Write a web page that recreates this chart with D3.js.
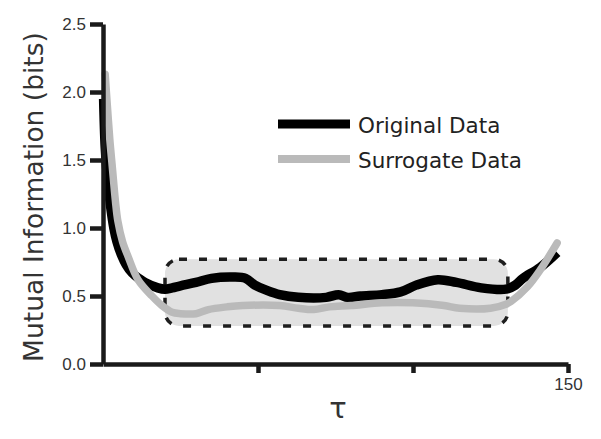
<!DOCTYPE html>
<html>
<head>
<meta charset="utf-8">
<script src="https://cdn.jsdelivr.net/npm/d3@7"></script>
<style>
  body { margin: 0; background: #fff; }
  svg { display: block; }
</style>
</head>
<body>
<div id="chart"></div>
<script>
// tau values and mutual information
const originalTau = [0.2, 0.7, 1.5, 2.5, 3.5, 4.5, 6, 7.5, 9.4, 11.5, 13.5, 17.7, 20, 22.3, 25, 30, 35, 42, 46, 49, 53, 57, 63, 72, 76, 79, 83, 90, 96, 101, 108, 114, 122, 130, 133, 135.5, 141, 146.5]
const originalMI = [1.95, 1.6, 1.35, 1.15, 1.0, 0.9, 0.8, 0.73, 0.67, 0.63, 0.6, 0.56, 0.55, 0.56, 0.575, 0.6, 0.63, 0.64, 0.63, 0.58, 0.54, 0.51, 0.49, 0.49, 0.51, 0.49, 0.5, 0.51, 0.53, 0.58, 0.62, 0.6, 0.56, 0.55, 0.58, 0.63, 0.71, 0.82]

const surrogateTau = [0.7, 1.4, 2.2, 3.0, 4.0, 4.8, 6.3, 8.1, 11.3, 15.8, 19, 22.3, 25, 30, 34, 40, 45, 57, 63, 68, 73, 80, 90, 100, 110, 115, 125, 130, 131.6, 137, 141, 146.5]
const surrogateMI = [2.13, 1.9, 1.65, 1.45, 1.2, 1.05, 0.9, 0.79, 0.62, 0.5, 0.43, 0.38, 0.37, 0.37, 0.4, 0.42, 0.43, 0.43, 0.41, 0.4, 0.42, 0.43, 0.45, 0.45, 0.43, 0.41, 0.41, 0.44, 0.46, 0.57, 0.69, 0.89]

// highlighted plateau region
const boxTau = [20, 130.6]
const boxMI = [0.28, 0.77]

const yTicks = [0, 0.5, 1.0, 1.5, 2.0, 2.5]
const xTicks = [50, 100, 150]
const seriesNames = ['Original Data', 'Surrogate Data']

const width = 601
const height = 439

const x = d3.scaleLinear().domain([0, 150]).range([103, 568])
const y = d3.scaleLinear().domain([0, 2.5]).range([364, 24])

const svg = d3.select('#chart')
  .append('svg')
  .attr('width', width)
  .attr('height', height)
  .style('background', '#fff')

// dashed box behind the curves
svg.append('rect')
  .attr('x', x(boxTau[0]))
  .attr('y', y(boxMI[1]))
  .attr('width', x(boxTau[1]) - x(boxTau[0]))
  .attr('height', y(boxMI[0]) - y(boxMI[1]))
  .attr('rx', 14)
  .attr('fill', '#e1e1e1')
  .attr('stroke', '#1e1e1e')
  .attr('stroke-width', 3.5)
  .attr('stroke-dasharray', '8,12')

const line = d3.line()
  .x(d => x(d[0]))
  .y(d => y(d[1]))
  .curve(d3.curveCatmullRom.alpha(0.5))

svg.append('path')
  .datum(d3.zip(originalTau, originalMI))
  .attr('d', line)
  .attr('fill', 'none')
  .attr('stroke', '#000')
  .attr('stroke-width', 9.5)
  .attr('stroke-linejoin', 'round')

svg.append('path')
  .datum(d3.zip(surrogateTau, surrogateMI))
  .attr('d', line)
  .attr('fill', 'none')
  .attr('stroke', '#bababa')
  .attr('stroke-width', 7.5)
  .attr('stroke-linecap', 'round')
  .attr('stroke-linejoin', 'round')

// axes
const yAxis = svg.append('g')
  .attr('transform', `translate(${x(0)},0)`)
  .call(d3.axisLeft(y).tickValues(yTicks).tickFormat(d3.format('.1f')).tickSize(13).tickSizeOuter(0).tickPadding(4))

const xAxis = svg.append('g')
  .attr('transform', `translate(0,${y(0)})`)
  .call(d3.axisBottom(x).tickValues(xTicks).tickFormat(d => d === 150 ? '150' : '').tickSize(9).tickSizeOuter(0).tickPadding(5))

for (const g of [yAxis, xAxis]) {
  g.select('.domain').attr('stroke', '#1a1a1a').attr('stroke-width', 4.5)
  g.selectAll('.tick line').attr('stroke', '#1a1a1a').attr('stroke-width', 4.5)
  g.selectAll('.tick text')
    .attr('fill', '#333')
    .style('font-family', '"Liberation Sans", Arial, sans-serif')
    .style('font-size', '17px')
}

// axis titles
svg.append('text')
  .attr('transform', 'translate(43,197) rotate(-90)')
  .attr('text-anchor', 'middle')
  .style('font-family', '"DejaVu Sans", Verdana, sans-serif')
  .style('font-size', '26.5px')
  .attr('fill', '#333')
  .text('Mutual Information (bits)')

svg.append('text')
  .attr('x', 338)
  .attr('y', 418)
  .attr('text-anchor', 'middle')
  .style('font-family', '"DejaVu Sans", Verdana, sans-serif')
  .style('font-size', '29px')
  .attr('fill', '#333')
  .text('τ')

// legend
const legendColors = ['#000', '#bababa']
const legend = svg.append('g')
  .selectAll('g')
  .data(seriesNames)
  .enter()
  .append('g')
  .attr('transform', (d, i) => `translate(278,${124 + i * 35})`)

legend.append('line')
  .attr('x1', 0)
  .attr('x2', 72)
  .attr('stroke', (d, i) => legendColors[i])
  .attr('stroke-width', (d, i) => i === 0 ? 9 : 8)

legend.append('text')
  .attr('x', 80)
  .attr('y', 9)
  .style('font-family', '"DejaVu Sans", Verdana, sans-serif')
  .style('font-size', '21.5px')
  .attr('fill', '#222')
  .text(d => d)
</script>
</body>
</html>
